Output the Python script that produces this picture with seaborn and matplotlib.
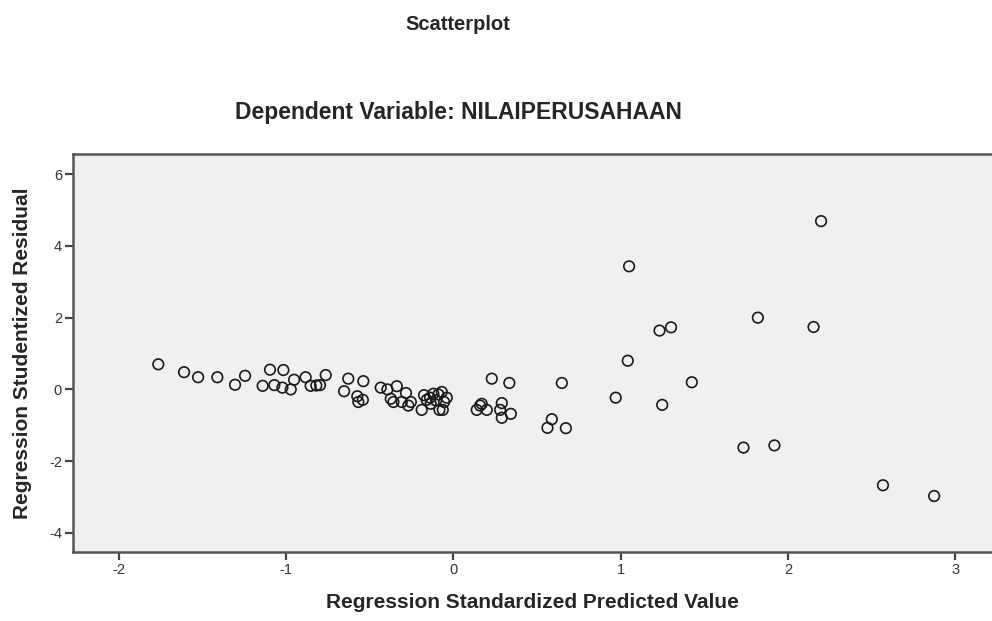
import numpy as np
import pandas as pd
import matplotlib
matplotlib.use("Agg")
import matplotlib.pyplot as plt
import seaborn as sns

# regression residual plot values
predicted = [-1.765, -1.611, -1.527, -1.412, -1.306, -1.246, -1.141, -1.097, -1.071, -1.017,
             -1.023, -0.973, -0.953, -0.884, -0.854, -0.82, -0.798, -0.764, -0.654, -0.629,
             -0.539, -0.575, -0.569, -0.542,
             -0.435, -0.395, -0.339, -0.284, -0.375, -0.359, -0.309, -0.255, -0.27, -0.190,
             -0.176, -0.160, -0.136, -0.120, -0.090, -0.070, -0.040, -0.056, -0.084, -0.064,
             -0.104, -0.140,
             0.139, 0.169, 0.159, 0.199, 0.229, 0.289, 0.279, 0.343, 0.289, 0.334,
             0.588, 0.562, 0.648, 0.672,
             2.198, 1.050, 1.232, 1.301, 1.820, 2.153, 1.042, 1.425, 0.970, 1.248,
             1.734, 1.919, 2.568, 2.874]
residual = [0.70, 0.48, 0.34, 0.34, 0.13, 0.38, 0.10, 0.55, 0.12, 0.54,
            0.05, 0.0, 0.27, 0.34, 0.10, 0.11, 0.12, 0.40, -0.05, 0.30,
            0.23, -0.19, -0.35, -0.29,
            0.05, 0.0, 0.09, -0.10, -0.26, -0.35, -0.35, -0.35, -0.45, -0.57,
            -0.16, -0.29, -0.40, -0.12, -0.14, -0.07, -0.23, -0.35, -0.57, -0.57,
            -0.31, -0.23,
            -0.57, -0.40, -0.45, -0.57, 0.30, -0.38, -0.57, -0.68, -0.79, 0.18,
            -0.83, -1.07, 0.18, -1.08,
            4.69, 3.43, 1.64, 1.73, 2.00, 1.74, 0.80, 0.20, -0.23, -0.43,
            -1.62, -1.56, -2.67, -2.97]
xticks = [-2, -1, 0, 1, 2, 3]
yticks = [-4, -2, 0, 2, 4, 6]

df = pd.DataFrame({"pred": predicted, "resid": residual})

sns.set_style("ticks", {"axes.facecolor": "#f0f0f0"})
plt.rcParams['font.family'] = ['Liberation Sans', 'DejaVu Sans']

fig = plt.figure(figsize=(9.92, 6.21), dpi=100)
ax = fig.add_axes([73/992, 69/621, 919/992, 398/621])

sns.scatterplot(data=df, x="pred", y="resid", ax=ax, marker="o", s=58,
                facecolors="none", edgecolor="#1a1a1a", linewidth=1.2)

ax.set_xlim(-2.275, 3.22)
ax.set_ylim(-4.53, 6.56)
ax.set_xticks(xticks)
ax.set_yticks(yticks)
ax.set_xticklabels([str(t) for t in xticks], fontsize=10.5, color="#333333")
ax.set_yticklabels([str(t) for t in yticks], fontsize=10.5, color="#333333")
ax.tick_params(axis="both", direction="out", length=6, width=1.6, color="#444444", pad=2,
               bottom=True, left=True, top=False, right=False)
ax.set_xlabel("")
ax.set_ylabel("")
for side in ["left", "bottom", "top"]:
    ax.spines[side].set_visible(True)
    ax.spines[side].set_color("#555555")
    ax.spines[side].set_linewidth(1.8)
ax.spines["right"].set_visible(False)

fig.text(458/992, 1 - 25/621, "Scatterplot", ha="center", va="center",
         fontsize=14.5, fontweight="bold")
fig.text(458/992, 1 - 112/621, "Dependent Variable: NILAIPERUSAHAAN", ha="center", va="center",
         fontsize=16.5, fontweight="bold")
fig.text(532/992, 1 - 603/621, "Regression Standardized Predicted Value", ha="center", va="center",
         fontsize=15, fontweight="bold")
fig.text(23/992, 1 - 353/621, "Regression Studentized Residual", ha="center", va="center",
         rotation=90, fontsize=15, fontweight="bold")

fig.savefig("out.png", dpi=100)
